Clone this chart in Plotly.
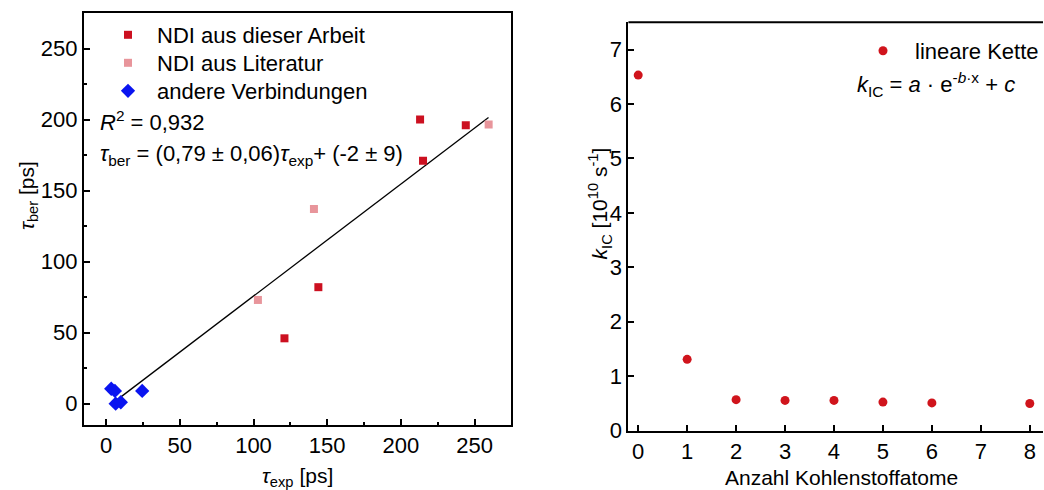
import plotly.graph_objects as go

# Left panel data
ndi_eigen_x = [213, 215, 244, 144, 121]
ndi_eigen_y = [200, 171, 196, 82, 46]
ndi_lit_x = [259.5, 141, 103]
ndi_lit_y = [196.5, 137, 73]
andere_x = [3.5, 6, 6.5, 10, 24.5]
andere_y = [10.5, 9, 0, 1, 9]
fit_x = [3.4, 259.4]
fit_y = [-0.5, 201.5]

# Right panel data
kette_x = [0, 1, 2, 3, 4, 5, 6, 8]
kette_y = [6.53, 1.31, 0.57, 0.556, 0.556, 0.525, 0.51, 0.50]

FONT = "Liberation Sans, Arial, sans-serif"
DARK = "#CC1020"
LIGHT = "#E8959B"
BLUE = "#0A14F0"
TICK = 22
TXT = 22
TITLE = 21

fig = go.Figure()
fig.add_trace(go.Scatter(x=fit_x, y=fit_y, mode="lines", line=dict(color="black", width=1.3),
                         showlegend=False, xaxis="x", yaxis="y"))
fig.add_trace(go.Scatter(x=ndi_eigen_x, y=ndi_eigen_y, mode="markers", name="NDI aus dieser Arbeit",
                         marker=dict(symbol="square", size=8, color=DARK), xaxis="x", yaxis="y", legend="legend"))
fig.add_trace(go.Scatter(x=ndi_lit_x, y=ndi_lit_y, mode="markers", name="NDI aus Literatur",
                         marker=dict(symbol="square", size=8, color=LIGHT), xaxis="x", yaxis="y", legend="legend3"))
fig.add_trace(go.Scatter(x=andere_x, y=andere_y, mode="markers", name="andere Verbindungen",
                         marker=dict(symbol="diamond", size=11, color=BLUE), xaxis="x", yaxis="y", legend="legend4"))
fig.add_trace(go.Scatter(x=kette_x, y=kette_y, mode="markers", name="lineare Kette",
                         marker=dict(symbol="circle", size=9, color="#D0141C"), xaxis="x2", yaxis="y2", legend="legend2"))

axis_common = dict(showline=True, linecolor="black", linewidth=2, ticks="inside", tickcolor="black",
                   tickwidth=1.5, ticklen=6, showgrid=False, zeroline=False, automargin=False,
                   tickfont=dict(family=FONT, size=TICK, color="black"))

def leg(x, y, itemwidth):
    return dict(x=x / 1044, y=1 - y / 490, xanchor="left", yanchor="middle", bgcolor="rgba(0,0,0,0)",
                font=dict(size=TXT, family=FONT, color="black"), itemwidth=itemwidth)

fig.update_layout(
    width=1044, height=490,
    margin=dict(l=0, r=0, t=0, b=0),
    paper_bgcolor="white", plot_bgcolor="white",
    font=dict(family=FONT, color="black"),
    xaxis=dict(domain=[0.0805, 0.4904], range=[-15, 275], tickvals=[0, 50, 100, 150, 200, 250],
               mirror=True, minor=dict(ticks="inside", dtick=25, ticklen=3, tickcolor="black"),
               anchor="y", **axis_common),
    yaxis=dict(domain=[0.1327, 0.9735], range=[-15, 275], tickvals=[0, 50, 100, 150, 200, 250],
               mirror=True, minor=dict(ticks="inside", dtick=25, ticklen=3, tickcolor="black"),
               anchor="x", **axis_common),
    xaxis2=dict(domain=[0.6025, 1.0], range=[-0.2, 8.27], tickvals=[0, 1, 2, 3, 4, 5, 6, 7, 8],
                mirror=False, anchor="y2", **axis_common),
    yaxis2=dict(domain=[0.121, 0.9545], range=[0, 7.5], tickvals=[0, 1, 2, 3, 4, 5, 6, 7],
                mirror=False, anchor="x2", **axis_common),
    legend=leg(99, 35, 48),
    legend3=leg(99, 63, 48),
    legend4=leg(99, 91, 48),
    legend2=leg(852, 51, 54),
)

# top border for right panel (no right border visible)
fig.add_shape(type="line", xref="x2 domain", yref="y2 domain", x0=0, x1=1, y0=1, y1=1,
              line=dict(color="black", width=2))

def ann(text, x, y, size=TXT, angle=0, xanchor="left"):
    fig.add_annotation(text=text, xref="paper", yref="paper", x=x / 1044, y=1 - y / 490,
                       xanchor=xanchor, yanchor="middle", showarrow=False, textangle=angle,
                       font=dict(size=size, family=FONT, color="black"))

ann("<i>R</i><sup>2</sup> = 0,932", 98, 121)
ann("<i>τ</i><sub>ber</sub> = (0,79 ± 0,06)<i>τ</i><sub>exp</sub>+ (-2 ± 9)", 98, 155)
ann("<i>k</i><sub>IC</sub> = <i>a</i> · e<sup>-<i>b</i>·x</sup> + <i>c</i>", 856, 84)

# axis titles
ann("<i>τ</i><sub>exp</sub> [ps]", 298, 477, size=TITLE, xanchor="center")
ann("<i>τ</i><sub>ber</sub> [ps]", 28, 195, size=TITLE, angle=-90, xanchor="center")
ann("Anzahl Kohlenstoffatome", 842, 477, size=TITLE, xanchor="center")
ann("<i>k</i><sub>IC</sub> [10<sup>10</sup> s<sup>-1</sup>]", 600, 203, size=TITLE, angle=-90, xanchor="center")

fig.write_html("out.html", config={"displayModeBar": False},
               post_script="document.body.style.margin='0';document.body.style.overflow='hidden';")
